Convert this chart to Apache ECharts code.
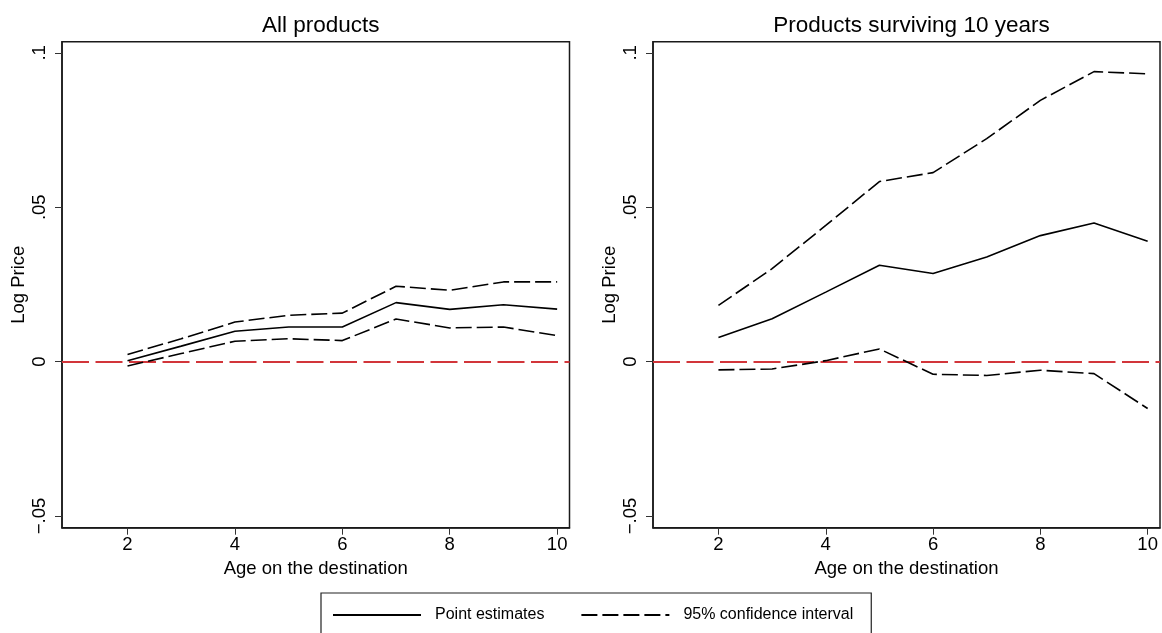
<!DOCTYPE html>
<html>
<head>
<meta charset="utf-8">
<script src="https://cdn.jsdelivr.net/npm/echarts@6/dist/echarts.min.js"></script>
<style>
html,body{margin:0;padding:0;background:#fff;}
#chart{width:1162px;height:633px;}
</style>
</head>
<body>
<div id="chart"></div>
<script>
// ---- Data ----
var ages = [2, 3, 4, 5, 6, 7, 8, 9, 10];
var xTicks = [2, 4, 6, 8, 10];
var yTicks = [-0.05, 0, 0.05, 0.1];
var yTickLabels = ['\u2212.05', '0', '.05', '.1'];

var allPoint = [0.0003, 0.0050, 0.0098, 0.0112, 0.0112, 0.0191, 0.0169, 0.0184, 0.0170];
var allUpper = [0.0023, 0.0074, 0.0128, 0.0150, 0.0157, 0.0244, 0.0231, 0.0258, 0.0258];
var allLower = [-0.0014, 0.0026, 0.0066, 0.0074, 0.0068, 0.0138, 0.0109, 0.0112, 0.0084];

var survPoint = [0.0078, 0.0139, 0.0225, 0.0312, 0.0285, 0.0339, 0.0408, 0.0449, 0.0390];
var survUpper = [0.0182, 0.0301, 0.0441, 0.0583, 0.0612, 0.0722, 0.0846, 0.0939, 0.0932];
var survLower = [-0.0027, -0.0024, 0.0003, 0.0041, -0.0041, -0.0045, -0.0028, -0.0039, -0.0152];

var titles = ['All products', 'Products surviving 10 years'];
var xName = 'Age on the destination';
var yName = 'Log Price';
var nameSolid = 'Point estimates';
var nameCI = '95% confidence interval';

function pairs(xs, ys) { return xs.map(function (x, i) { return [x, ys[i]]; }); }

var font = 'Liberation Sans, Arial, Helvetica, sans-serif';
var axisColor = '#1a1a1a';

function xAxisCfg(idx) {
  return {
    type: 'value', gridIndex: idx, min: 0.78, max: 10.23,
    name: xName, nameLocation: 'middle', nameGap: 30,
    nameTextStyle: { fontFamily: font, fontSize: 18.5, color: '#000' },
    axisLine: { show: true, onZero: false, lineStyle: { color: axisColor, width: 1.5 } },
    axisTick: { show: true, length: 7, customValues: xTicks, lineStyle: { color: '#333', width: 1 } },
    axisLabel: { customValues: xTicks, margin: 8, fontFamily: font, fontSize: 18.5, color: '#000' },
    splitLine: { show: false }
  };
}
function yAxisCfg(idx) {
  return {
    type: 'value', gridIndex: idx, min: -0.0538, max: 0.1036,
    name: yName, nameLocation: 'middle', nameGap: 34,
    nameTextStyle: { fontFamily: font, fontSize: 18.5, color: '#000' },
    axisLine: { show: true, onZero: false, lineStyle: { color: axisColor, width: 1.5 } },
    axisTick: { show: true, length: 7, customValues: yTicks, lineStyle: { color: '#333', width: 1 } },
    axisLabel: {
      customValues: yTicks, rotate: 90, margin: 13, fontFamily: font, fontSize: 18.5, color: '#000',
      formatter: function (v) {
        for (var i = 0; i < yTicks.length; i++) { if (Math.abs(v - yTicks[i]) < 1e-9) return yTickLabels[i]; }
        return '';
      }
    },
    splitLine: { show: false }
  };
}

function seriesFor(idx, pt, up, lo) {
  var solid = { color: '#000', width: 1.6, type: 'solid' };
  var dash = { color: '#000', width: 1.6, type: [16, 5] };
  return [
    {
      name: nameSolid, type: 'line', xAxisIndex: idx, yAxisIndex: idx,
      data: pairs(ages, pt), symbol: 'none', lineStyle: solid, itemStyle: { color: '#000' },
      z: 3,
      markLine: {
        silent: true, symbol: 'none', label: { show: false },
        lineStyle: { color: '#d2353a', width: 2, type: [27, 6.5] },
        data: [{ yAxis: 0 }], z: 2
      }
    },
    {
      name: nameCI, type: 'line', xAxisIndex: idx, yAxisIndex: idx,
      data: pairs(ages, up), symbol: 'none', lineStyle: dash, itemStyle: { color: '#000' }, z: 4
    },
    {
      name: nameCI, type: 'line', xAxisIndex: idx, yAxisIndex: idx,
      data: pairs(ages, lo), symbol: 'none', lineStyle: dash, itemStyle: { color: '#000' }, z: 4
    }
  ];
}

var chart = echarts.init(document.getElementById('chart'), null, { renderer: 'canvas' });
chart.setOption({
  animation: false,
  backgroundColor: '#fff',
  title: [
    { text: titles[0], left: 315.7, top: 9, textAlign: 'center',
      textStyle: { fontFamily: font, fontSize: 22.5, fontWeight: 'normal', color: '#000' } },
    { text: titles[1], left: 906.5, top: 9, textAlign: 'center',
      textStyle: { fontFamily: font, fontSize: 22.5, fontWeight: 'normal', color: '#000' } }
  ],
  grid: [
    { left: 62, top: 41.7, width: 507.5, height: 486, show: true, borderColor: axisColor, borderWidth: 1.5, backgroundColor: 'transparent' },
    { left: 653, top: 41.7, width: 507, height: 486, show: true, borderColor: axisColor, borderWidth: 1.5, backgroundColor: 'transparent' }
  ],
  xAxis: [xAxisCfg(0), xAxisCfg(1)],
  yAxis: [yAxisCfg(0), yAxisCfg(1)],
  legend: {
    left: 321, top: 593, orient: 'horizontal',
    data: [nameSolid, nameCI],
    itemWidth: 88, itemHeight: 14, itemGap: 36,
    padding: [14, 18, 40, 11],
    borderColor: '#222', borderWidth: 1.2,
    itemStyle: { opacity: 0 },
    textStyle: { fontFamily: font, fontSize: 16, color: '#000', padding: [0, 0, 0, 9] },
    selectedMode: false
  },
  series: [].concat(
    seriesFor(0, allPoint, allUpper, allLower),
    seriesFor(1, survPoint, survUpper, survLower)
  )
});
</script>
</body>
</html>
